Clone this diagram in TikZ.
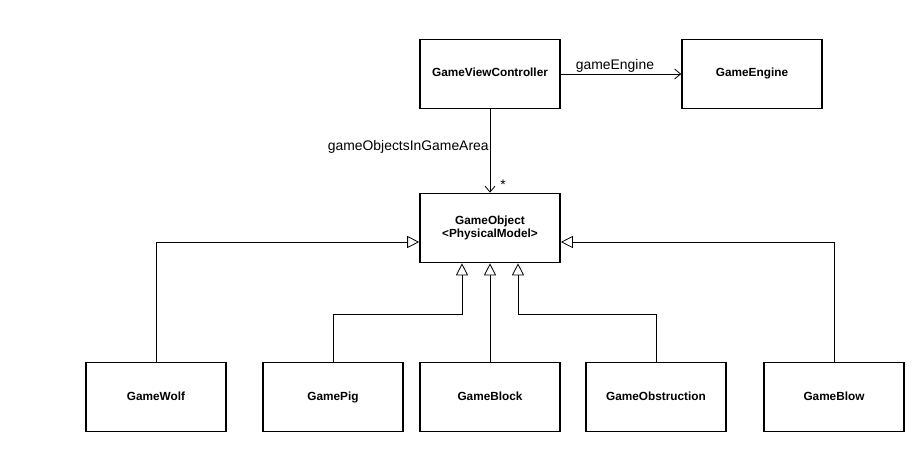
\documentclass[tikz,border=0pt]{standalone}
\usepackage{fontspec}
\setmainfont{Liberation Sans}
\usetikzlibrary{arrows.meta}

\begin{document}
\begin{tikzpicture}[x=1pt,y=-1pt,
		klass/.style={draw,line width=1.6pt,minimum width=140pt,minimum height=69pt,font=\fontsize{11.8}{14}\selectfont\bfseries,align=center},
		leaf/.style={klass,text height=8.5pt,text depth=2.5pt},
		assoc/.style={-{Straight Barb[length=6pt,width=10pt]},line width=0.8pt},
		inh/.style={-{Triangle[open,length=12pt,width=12pt,fill=white]},line width=0.8pt},
		lbl/.style={font=\fontsize{13.9}{16}\selectfont,inner sep=1pt}]
	\useasboundingbox (0,0) rectangle (924,452);
	% classes
	\node[leaf] (gvc) at (490,74) {GameViewController};
	\node[leaf] (eng) at (752,74) {GameEngine};
	\node[klass] (obj) at (490,228) {GameObject\\[-1pt]<PhysicalModel>};
	\node[leaf] (wolf) at (156,397) {GameWolf};
	\node[leaf] (pig) at (333,397) {GamePig};
	\node[leaf] (block) at (490,397) {GameBlock};
	\node[leaf] (obstr) at (656,397) {GameObstruction};
	\node[leaf] (blow) at (834,397) {GameBlow};
	\coordinate (bend) at (490,314);
	\coordinate (pigin) at ([xshift=-28pt]obj.south);
	\coordinate (obstrin) at ([xshift=28pt]obj.south);
	% associations
	\draw[assoc] (gvc) -- node[lbl,above,pos=0.45] {gameEngine} (eng);
	\draw[assoc] (gvc) -- node[lbl,left,pos=0.45] {gameObjectsInGameArea}
		node[lbl,right,pos=0.9,xshift=9pt] {*} (obj);
	% inheritance
	\draw[inh] (wolf.north) |- ([yshift=-14pt]obj.west);
	\draw[inh] (blow.north) |- ([yshift=-14pt]obj.east);
	\draw[inh] (pig.north) -- (pig.north |- bend) -| (pigin);
	\draw[inh] (block) -- (obj);
	\draw[inh] (obstr.north) -- (obstr.north |- bend) -| (obstrin);
\end{tikzpicture}
\end{document}
